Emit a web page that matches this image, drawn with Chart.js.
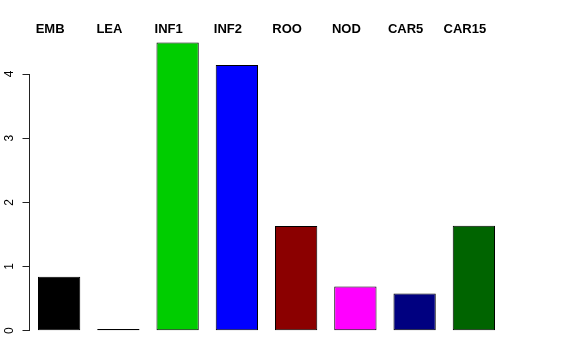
<!DOCTYPE html>
<html>
<head>
<meta charset="utf-8">
<script src="https://cdn.jsdelivr.net/npm/chart.js@4/dist/chart.umd.min.js"></script>
<style>
html,body{margin:0;padding:0;background:#fff;}
canvas{display:block;}
</style>
</head>
<body>
<canvas id="c" width="576" height="360"></canvas>
<script>
const categories = ["EMB", "LEA", "INF1", "INF2", "ROO", "NOD", "CAR5", "CAR15"];
const values = [0.84, 0, 4.49, 4.14, 1.63, 0.69, 0.58, 1.635];
const barColors = ["#000000", "#000000", "#00CD00", "#0000FF", "#8B0000", "#FF00FF", "#000080", "#006400"];
const yTicks = [0, 1, 2, 3, 4];

new Chart(document.getElementById('c'), {
  type: 'bar',
  data: {
    labels: categories,
    datasets: [{
      data: values,
      backgroundColor: barColors,
      borderColor: '#000000',
      borderWidth: 1,
      borderSkipped: false,
      minBarLength: 1.6,
      clip: false,
      categoryPercentage: 1,
      barPercentage: 0.714
    }]
  },
  options: {
    responsive: false,
    animation: false,
    devicePixelRatio: 1,
    layout: { padding: { left: 0, top: 0, right: 72.5, bottom: 29.3 } },
    plugins: { legend: { display: false }, tooltip: { enabled: false } },
    scales: {
      x: {
        position: 'top',
        afterFit(s) { s.height = 74; },
        grid: { display: false, drawTicks: false },
        border: { display: false },
        ticks: {
          color: '#000',
          padding: 37,
          labelOffset: -9,
          maxRotation: 0,
          minRotation: 0,
          autoSkip: false,
          font: { family: 'Liberation Sans', size: 13, weight: 'bold' }
        }
      },
      y: {
        min: 0,
        max: 4,
        afterFit(s) { s.width = 29.5; },
        afterBuildTicks(s) { s.ticks = yTicks.map(v => ({ value: v })); },
        grid: { drawOnChartArea: false, tickLength: 7, color: '#222', lineWidth: 1 },
        border: { display: true, color: '#222', width: 1 },
        ticks: {
          color: '#000',
          minRotation: 90,
          maxRotation: 90,
          crossAlign: 'center',
          padding: 9,
          font: { family: 'Liberation Sans', size: 12 }
        }
      }
    }
  }
});
</script>
</body>
</html>
